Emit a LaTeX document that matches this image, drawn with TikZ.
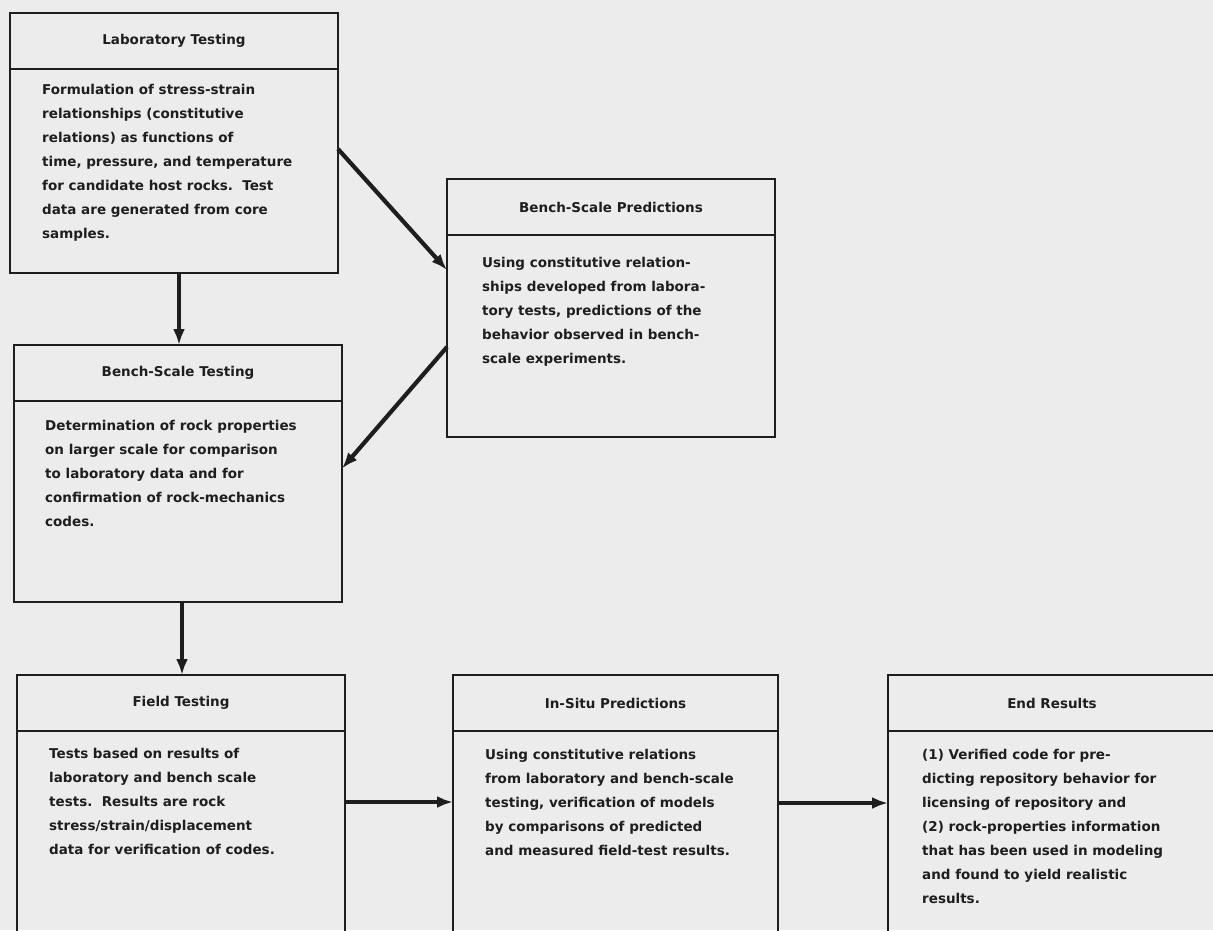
\documentclass[tikz,border=0pt]{standalone}
\usepackage{fontspec}
\setmainfont{DejaVu Sans}
\usetikzlibrary{arrows.meta,positioning}
\definecolor{paper}{RGB}{236,236,236}
\definecolor{ink}{RGB}{30,30,30}

\begin{document}
\begin{tikzpicture}[x=1pt, y=-1pt,
  head/.style={draw=ink, line width=1.8pt, minimum height=56pt, anchor=north west, inner sep=0pt, outer sep=0pt, font=\fontsize{13.5}{16}\selectfont\bfseries, text=ink},
  body/.style={draw=ink, line width=1.8pt, inner sep=0pt, outer sep=0pt},
  txt/.style={anchor=north west, align=left, inner sep=0pt, font=\fontsize{13.5}{24}\selectfont\bfseries, text=ink},
  flow/.style={-{Latex[length=16pt,width=12pt]}, line width=4.2pt, draw=ink}]
\useasboundingbox (0,0) rectangle (1213,930);
\clip (0,0) rectangle (1213,930);
\fill[paper] (0,0) rectangle (1213,930);

% left column
\node[head, minimum width=328pt] (labhead) at (10,13) {Laboratory Testing};
\node[body, minimum width=328pt, minimum height=204pt, below=0pt of labhead] (labbody) {};
\node[txt] (labtxt) at ([shift={(32,15)}]labbody.north west) {Formulation of stress-strain\\
relationships (constitutive\\
relations) as functions of\\
time, pressure, and temperature\\
for candidate host rocks.\ \ Test\\
data are generated from core\\
samples.};

\node[head, minimum width=328pt] (bsthead) at (14,345) {Bench-Scale Testing};
\node[body, minimum width=328pt, minimum height=201pt, below=0pt of bsthead] (bstbody) {};
\node[txt] (bsttxt) at ([shift={(31,19)}]bstbody.north west) {Determination of rock properties\\
on larger scale for comparison\\
to laboratory data and for\\
confirmation of rock-mechanics\\
codes.};

% predictions
\node[head, minimum width=328pt] (bsphead) at (447,179) {Bench-Scale Predictions};
\node[body, minimum width=328pt, minimum height=202pt, below=0pt of bsphead] (bspbody) {};
\node[txt] (bsptxt) at ([shift={(35,22)}]bspbody.north west) {Using constitutive relation-\\
ships developed from labora-\\
tory tests, predictions of the\\
behavior observed in bench-\\
scale experiments.};

% bottom row
\node[head, minimum width=328pt] (fieldhead) at (17,675) {Field Testing};
\node[body, minimum width=328pt, minimum height=240pt, below=0pt of fieldhead] (fieldbody) {};
\node[txt] (fieldtxt) at ([shift={(32,17)}]fieldbody.north west) {Tests based on results of\\
laboratory and bench scale\\
tests.\ \ Results are rock\\
stress/strain/displacement\\
data for verification of codes.};

\node[head, minimum width=325pt] (situhead) at (453,675) {In-Situ Predictions};
\node[body, minimum width=325pt, minimum height=240pt, below=0pt of situhead] (situbody) {};
\node[txt] (situtxt) at ([shift={(32,18)}]situbody.north west) {Using constitutive relations\\
from laboratory and bench-scale\\
testing, verification of models\\
by comparisons of predicted\\
and measured field-test results.};

\node[head, minimum width=352pt] (endhead) at (888,675) {\hspace*{-24pt}End Results};
\node[body, minimum width=352pt, minimum height=240pt, below=0pt of endhead] (endbody) {};
\node[txt] (endtxt) at ([shift={(34,18)}]endbody.north west) {(1) Verified code for pre-\\
dicting repository behavior for\\
licensing of repository and\\
(2) rock-properties information\\
that has been used in modeling\\
and found to yield realistic\\
results.};

% arrows
\draw[flow] ([xshift=5pt]labbody.south) -- ([xshift=5pt]labbody.south |- bsthead.north);
\draw[flow] ([yshift=22pt]labbody.east) -- ([yshift=66pt]bspbody.west);
\draw[flow] ([yshift=-11pt]bspbody.west) -- ([yshift=33pt]bstbody.east);
\draw[flow] ([xshift=4pt]bstbody.south) -- ([xshift=4pt]bstbody.south |- fieldhead.north);
\draw[flow] ([yshift=-71pt]fieldbody.north east) -- ([yshift=-71pt]fieldbody.north east -| situbody.west);
\draw[flow] ([yshift=-72pt]situbody.north east) -- ([yshift=-72pt]endbody.north west);
\end{tikzpicture}
\end{document}
